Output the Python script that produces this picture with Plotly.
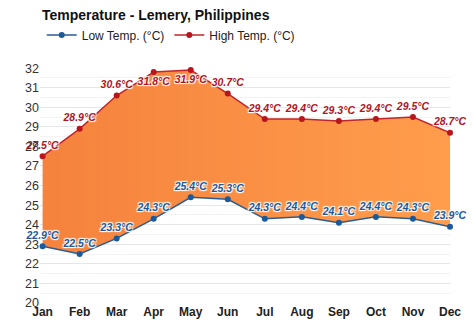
import plotly.graph_objects as go

months = ["Jan", "Feb", "Mar", "Apr", "May", "Jun", "Jul", "Aug", "Sep", "Oct", "Nov", "Dec"]
high = [27.5, 28.9, 30.6, 31.8, 31.9, 30.7, 29.4, 29.4, 29.3, 29.4, 29.5, 28.7]
low = [22.9, 22.5, 23.3, 24.3, 25.4, 25.3, 24.3, 24.4, 24.1, 24.4, 24.3, 23.9]
y_ticks = list(range(20, 33))

x = list(range(len(months)))
shadow = "1px 1px 1px white, -1px -1px 1px white, 1px -1px 1px white, -1px 1px 1px white"
FONT = "Liberation Sans, Arial"
LOW_C = "#1a5a9c"
HIGH_C = "#b8161c"

high_pos = ["top center"] * len(high)
high_pos[3] = "bottom center"
high_pos[4] = "bottom center"

fig = go.Figure()
fig.add_trace(go.Scatter(
    x=x, y=low, name="Low Temp. (°C)", mode="lines+markers+text", showlegend=False,
    line=dict(color="#2a5d95", width=1.5), marker=dict(size=6, color=LOW_C),
    text=[f"{v}°C" for v in low], textposition="top center", cliponaxis=False,
    textfont=dict(family=FONT, size=10.5, color=LOW_C,
                  weight="bold", style="italic", shadow=shadow),
))
fig.add_trace(go.Scatter(
    x=x, y=high, name="High Temp. (°C)", mode="lines+markers+text", showlegend=False,
    fill="tonexty",
    fillgradient=dict(type="horizontal",
                      colorscale=[[0, "#f5823d"], [1, "#ff9d4c"]]),
    line=dict(color="#c0262b", width=1.5), marker=dict(size=6, color=HIGH_C),
    text=[f"{v}°C" for v in high], textposition=high_pos, cliponaxis=False,
    textfont=dict(family=FONT, size=10.5, color="#b0141e",
                  weight="bold", style="italic", shadow=shadow),
))
# legend entries
fig.add_trace(go.Scatter(x=[None], y=[None], name="Low Temp. (°C)", mode="lines+markers",
                         line=dict(color="#2a5d95", width=1.5), marker=dict(size=6, color=LOW_C)))
fig.add_trace(go.Scatter(x=[None], y=[None], name="High Temp. (°C)", mode="lines+markers",
                         line=dict(color="#c0262b", width=1.5), marker=dict(size=6, color=HIGH_C)))

fig.update_layout(
    width=474, height=331,
    margin=dict(l=40, r=24, t=49, b=27),
    paper_bgcolor="white", plot_bgcolor="white",
    title=dict(text="<b>Temperature - Lemery, Philippines</b>", x=42 / 474, xanchor="left",
               y=1 - 15 / 331, yanchor="middle",
               font=dict(family=FONT, size=14, color="#111")),
    legend=dict(orientation="h", x=2 / 474, xanchor="left", traceorder="normal",
                y=1 - 35 / 331, yref="container", yanchor="middle",
                font=dict(family=FONT, size=12, color="#222")),
    showlegend=True,
)
fig.update_xaxes(
    tickmode="array", tickvals=x, ticktext=[f"<b>{m}</b>" for m in months],
    range=[-0.07, 11], showgrid=False, zeroline=False, showline=False,
    tickfont=dict(family=FONT, size=12, color="#222"), ticks="",
)
fig.update_yaxes(
    range=[20, 32], tickvals=y_ticks, showgrid=True, gridcolor="#e6e6e6", gridwidth=1,
    minor=dict(dtick=0.5, showgrid=True, gridcolor="#f3f3f3"),
    zeroline=False, showline=False, ticks="",
    tickfont=dict(family=FONT, size=12.5, color="#333"),
)
fig.write_html("out.html")
